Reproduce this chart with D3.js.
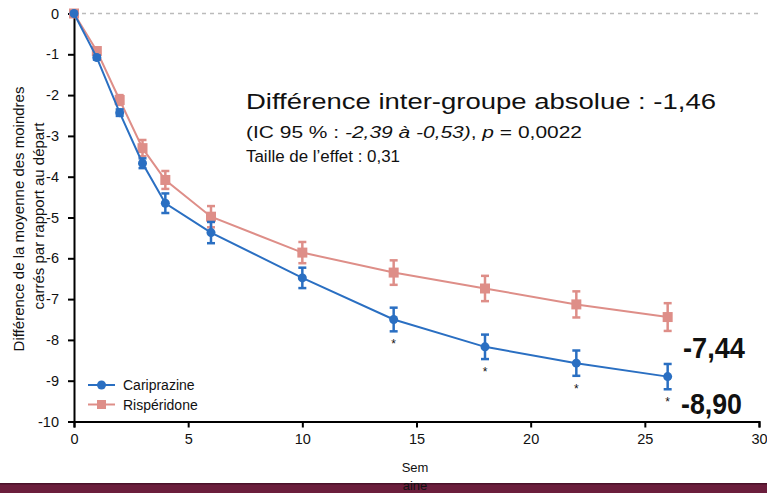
<!DOCTYPE html>
<html><head><meta charset="utf-8">
<script src="https://cdn.jsdelivr.net/npm/d3@7"></script>
<style>
body{margin:0;background:#fff;}
svg{display:block;font-family:"Liberation Sans",Arial,sans-serif;}
.narrow{font-family:"Liberation Sans Narrow","Arial Narrow","Liberation Sans",Arial,sans-serif;}
</style></head>
<body><svg id="c" width="767" height="493"></svg>
<script>
const weeks = [0,1,2,3,4,6,10,14,18,22,26];
const cariprazine = [0,-1.08,-2.43,-3.67,-4.65,-5.37,-6.48,-7.5,-8.17,-8.57,-8.90];
const cariprazineErr = [0,0.05,0.08,0.12,0.24,0.26,0.25,0.29,0.3,0.31,0.31];
const risperidone = [0,-0.92,-2.12,-3.30,-4.08,-4.98,-5.86,-6.35,-6.74,-7.13,-7.44];
const risperidoneErr = [0,0.06,0.12,0.2,0.22,0.26,0.26,0.3,0.31,0.32,0.34];
const significantWeeks = [14,18,22,26];
const xTicks = [0,5,10,15,20,25,30];
const yTicks = [0,-1,-2,-3,-4,-5,-6,-7,-8,-9,-10];
const seriesNames = ["Cariprazine","Rispéridone"];
const colors = ["#2a6fc2","#de8e88"];

const svg = d3.select("#c");
const x = d3.scaleLinear().domain([0,30]).range([74,759]);
const y = d3.scaleLinear().domain([0,-10]).range([13.5,421.5]);

// bottom bar
svg.append("rect").attr("x",0).attr("y",483).attr("width",767).attr("height",10).attr("fill","#6b1e3c");
svg.append("rect").attr("x",0).attr("y",483).attr("width",767).attr("height",1.5).attr("fill","#4a1229");

// zero dashed line
svg.append("line").attr("x1",x(0)).attr("x2",x(30)).attr("y1",y(0)).attr("y2",y(0))
  .attr("stroke","#bbb").attr("stroke-width",1.5).attr("stroke-dasharray","4,4");

// axes
const xAxis = svg.append("g").attr("transform",`translate(0,${y(-10)})`)
  .call(d3.axisBottom(x).tickValues(xTicks).tickSize(6).tickPadding(6).tickFormat(d3.format("d")));
const yAxis = svg.append("g").attr("transform",`translate(${x(0)},0)`)
  .call(d3.axisLeft(y).tickValues(yTicks).tickSize(6).tickPadding(9));
[xAxis,yAxis].forEach(g=>{
  g.select(".domain").attr("stroke","#000").attr("stroke-width",2);
  g.selectAll(".tick line").attr("stroke","#000").attr("stroke-width",2);
  g.selectAll(".tick text").attr("fill","#111").style("font-size","14.5px").style("font-family","inherit");
});
yAxis.selectAll(".tick text").text(d=>d===0?"0":"-"+Math.abs(d));

// axis titles
svg.append("text").attr("class","narrow").attr("transform","translate(24,219) rotate(-90)").attr("text-anchor","middle")
  .style("font-size","15px").attr("fill","#111").text("Différence de la moyenne des moindres");
svg.append("text").attr("class","narrow").attr("transform","translate(44,216) rotate(-90)").attr("text-anchor","middle")
  .style("font-size","15px").attr("fill","#111").text("carrés par rapport au départ");
svg.append("text").attr("x",415).attr("y",472).attr("text-anchor","middle").style("font-size","13px").attr("fill","#111").text("Sem");
svg.append("text").attr("x",415).attr("y",490).attr("text-anchor","middle").style("font-size","13px").attr("fill","#111").text("aine");

// series
const series = [
  {name:seriesNames[0], vals:cariprazine, err:cariprazineErr, color:colors[0], shape:"circle"},
  {name:seriesNames[1], vals:risperidone, err:risperidoneErr, color:colors[1], shape:"square"}
];
const line = d3.line().x(d=>x(d[0])).y(d=>y(d[1]));
[series[1],series[0]].forEach(s=>{
  const pts = weeks.map((w,i)=>[w,s.vals[i],s.err[i]]);
  const g = svg.append("g");
  g.append("path").attr("d",line(pts)).attr("fill","none").attr("stroke",s.color).attr("stroke-width",2);
  pts.forEach(p=>{
    if(p[2]>0){
      g.append("line").attr("x1",x(p[0])).attr("x2",x(p[0])).attr("y1",y(p[1]+p[2])).attr("y2",y(p[1]-p[2]))
        .attr("stroke",s.color).attr("stroke-width",2.5);
      [p[1]+p[2],p[1]-p[2]].forEach(v=>g.append("line").attr("x1",x(p[0])-4).attr("x2",x(p[0])+4)
        .attr("y1",y(v)).attr("y2",y(v)).attr("stroke",s.color).attr("stroke-width",2.5));
    }
    if(s.shape==="circle") g.append("circle").attr("cx",x(p[0])).attr("cy",y(p[1])).attr("r",4.5).attr("fill",s.color);
    else g.append("rect").attr("x",x(p[0])-5).attr("y",y(p[1])-5).attr("width",10).attr("height",10).attr("fill",s.color);
  });
});

// asterisks
significantWeeks.forEach(w=>{
  const i = weeks.indexOf(w);
  svg.append("text").attr("x",x(w)).attr("y",y(cariprazine[i]-cariprazineErr[i])+17).attr("text-anchor","middle")
    .style("font-size","12px").attr("fill","#111").text("*");
});

// end labels
svg.append("text").attr("class","narrow").attr("x",683).attr("y",358).style("font-size","29px").style("font-weight","bold")
  .attr("fill","#111").attr("textLength",62).attr("lengthAdjust","spacingAndGlyphs").text("-7,44");
svg.append("text").attr("class","narrow").attr("x",681).attr("y",414).style("font-size","29px").style("font-weight","bold")
  .attr("fill","#111").attr("textLength",61).attr("lengthAdjust","spacingAndGlyphs").text("-8,90");

// annotation
svg.append("text").attr("x",246).attr("y",109).style("font-size","22.5px").attr("fill","#111")
  .attr("textLength",470).attr("lengthAdjust","spacingAndGlyphs")
  .text("Différence inter-groupe absolue : -1,46");
const t2 = svg.append("text").attr("x",246).attr("y",138).style("font-size","16.8px").attr("fill","#111")
  .attr("textLength",336).attr("lengthAdjust","spacingAndGlyphs");
t2.append("tspan").text("(IC 95 % : ");
t2.append("tspan").style("font-style","italic").text("-2,39 à -0,53)");
t2.append("tspan").text(", ");
t2.append("tspan").style("font-style","italic").text("p");
t2.append("tspan").text(" = 0,0022");
svg.append("text").attr("x",246).attr("y",162).style("font-size","16.8px").attr("fill","#111")
  .attr("textLength",154).attr("lengthAdjust","spacingAndGlyphs")
  .text("Taille de l’effet : 0,31");

// legend
series.forEach((s,i)=>{
  const ly = 385 + i*19.5;
  svg.append("line").attr("x1",88).attr("x2",115).attr("y1",ly).attr("y2",ly).attr("stroke",s.color).attr("stroke-width",2);
  if(s.shape==="circle") svg.append("circle").attr("cx",101.5).attr("cy",ly).attr("r",4.5).attr("fill",s.color);
  else svg.append("rect").attr("x",97).attr("y",ly-4.5).attr("width",9).attr("height",9).attr("fill",s.color);
  svg.append("text").attr("x",123).attr("y",ly+5).style("font-size","14px").attr("fill","#111").text(s.name);
});
</script></body></html>
